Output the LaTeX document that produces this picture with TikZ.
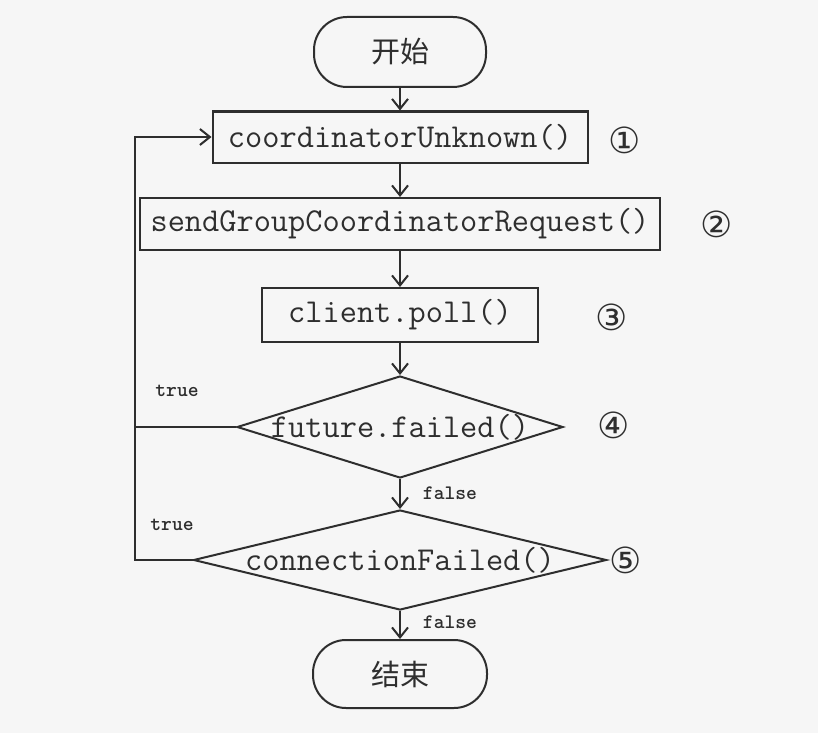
\documentclass[tikz,border=0pt]{standalone}
\usepackage{fontspec}
\newfontfamily\cjk{Noto Sans CJK SC}
\newfontfamily\dejavu{DejaVu Sans}
\usetikzlibrary{arrows.meta,shapes.geometric}
\definecolor{ink}{HTML}{2E2E2E}
\definecolor{paper}{HTML}{F6F6F6}
\begin{document}
\begin{tikzpicture}[x=0.5pt,y=-0.5pt,
  line/.style={draw=ink,line width=1pt},
  arr/.style={line,-{Straight Barb[length=5pt,width=8pt,line width=1pt]}},
  term/.style={rectangle,rounded corners=16.5pt,draw=ink,line width=1pt,fill=paper,inner sep=0pt,font=\cjk\fontsize{14.5}{16}\selectfont,text=ink},
  proc/.style={rectangle,draw=ink,line width=1pt,fill=paper,inner sep=0pt,font=\ttfamily\fontsize{16.7}{18}\selectfont,text=ink},
  dec/.style={diamond,draw=ink,line width=1pt,fill=paper,inner sep=0pt},
  dectext/.style={font=\ttfamily\fontsize{16.7}{18}\selectfont,text=ink,inner sep=0pt},
  num/.style={font=\dejavu\fontsize{18}{20}\selectfont,text=ink,inner sep=0pt},
  lab/.style={font=\ttfamily\bfseries\fontsize{10.3}{12}\selectfont,text=ink,inner sep=0pt}]
\fill[paper] (0,0) rectangle (818,733);
\useasboundingbox (0,0) rectangle (818,733);

\node[term,minimum width=86pt,minimum height=35pt] (start) at (400,52) {开始};
\node[proc,minimum width=187.5pt,minimum height=25.5pt] (b1) at (400,137) {coordinatorUnknown()};
\node[proc,minimum width=260pt,minimum height=26pt] (b2) at (400,224) {sendGroupCoordinatorRequest()};
\node[proc,minimum width=138pt,minimum height=27pt] (b3) at (400,315) {client.poll()};
\node[dec,minimum width=163pt,minimum height=51pt] (d1) at (400,427) {};
\node[dectext] (d1t) at (d1.center) {future.failed()};
\node[dec,minimum width=206.5pt,minimum height=50pt] (d2) at (400,560) {};
\node[dectext] (d2t) at (d2.center) {connectionFailed()};
\node[term,minimum width=87pt,minimum height=34pt] (end) at (400,674) {结束};

\node[num] (n1) at (625,140) {①};
\node[num] (n2) at (717,224) {②};
\node[num] (n3) at (612,317) {③};
\node[num] (n4) at (614,425) {④};
\node[num] (n5) at (626,560) {⑤};

\node[lab] (t1) at (177,391) {true};
\node[lab] (t2) at (172,525) {true};
\node[lab] (f1) at (450,493) {false};
\node[lab] (f2) at (450,622) {false};

\coordinate (loopB) at (135,560);

\draw[arr] (start) -- (b1);
\draw[arr] (b1) -- (b2);
\draw[arr] (b2) -- (b3);
\draw[arr] (b3) -- (d1.north);
\draw[arr] (d1.south) -- (d2.north);
\draw[arr] (d2.south) -- (end);
\draw[arr] (d2.west) -- (loopB) |- (b1.west);
\draw[line] (d1.west) -- (d1.west -| loopB);
\end{tikzpicture}
\end{document}
